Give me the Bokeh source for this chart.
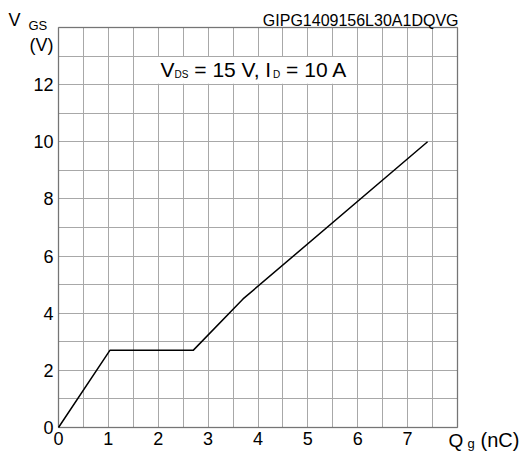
from bokeh.plotting import figure
from bokeh.models import FixedTicker, Label, BoxAnnotation, Range1d
from bokeh.embed import file_html
from bokeh.resources import INLINE

# Data
qg_nc = [0.0, 1.03, 2.7, 3.7, 7.4]
vgs_v = [0.0, 2.7, 2.7, 4.5, 10.0]

x_tick_values = [0, 1, 2, 3, 4, 5, 6, 7]
y_tick_values = [0, 2, 4, 6, 8, 10, 12]
x_grid_values = [0, 0.5, 1, 1.5, 2, 2.5, 3, 3.5, 4, 4.5, 5, 5.5, 6, 6.5, 7, 7.5, 8]
y_grid_values = [0, 1, 2, 3, 4, 5, 6, 7, 8, 9, 10, 11, 12, 13, 14]

FONT = "Liberation Sans"

# layout: chart box occupies these canvas pixels
W, H = 526, 452
BOX_L, BOX_R, BOX_T, BOX_B = 58, 457, 27, 427
X0, X1, Y0, Y1 = 0, 8, 0, 14
sx = (BOX_R - BOX_L) / (X1 - X0)
sy = (BOX_B - BOX_T) / (Y1 - Y0)

def dx(px):
    return X0 + (px - BOX_L) / sx

def dy(py):
    return Y0 + (BOX_B - py) / sy

p = figure(width=W, height=H,
           x_range=Range1d(dx(0), dx(W)), y_range=Range1d(dy(H), dy(0)),
           output_backend="svg", toolbar_location=None,
           min_border_left=0, min_border_right=0, min_border_top=0, min_border_bottom=0)

p.background_fill_color = "white"
p.border_fill_color = "white"
p.outline_line_color = None

for ax in (p.xaxis, p.yaxis):
    ax.axis_line_color = None
    ax.major_tick_line_color = None
    ax.minor_tick_line_color = None
    ax.major_tick_out = 0
    ax.major_tick_in = 0
    ax.minor_tick_out = 0
    ax.minor_tick_in = 0
    ax.major_label_text_font = FONT
    ax.major_label_text_font_size = "18px"
    ax.major_label_text_color = "black"

p.xaxis.ticker = FixedTicker(ticks=x_tick_values)
p.yaxis.ticker = FixedTicker(ticks=y_tick_values)
p.xaxis.fixed_location = Y0
p.yaxis.fixed_location = X0
p.xaxis.major_label_standoff = 4
p.yaxis.major_label_standoff = 5

p.xgrid.ticker = FixedTicker(ticks=x_grid_values)
p.ygrid.ticker = FixedTicker(ticks=y_grid_values)
p.xgrid.bounds = (X0, X1)
p.xgrid.cross_bounds = (Y0, Y1)
p.ygrid.bounds = (Y0, Y1)
p.ygrid.cross_bounds = (X0, X1)
for g in (p.xgrid, p.ygrid):
    g.grid_line_color = "#a8a8a8"
    g.grid_line_width = 1

p.line(qg_nc, vgs_v, line_color="black", line_width=1.5)

# white box behind the condition text
p.add_layout(BoxAnnotation(left=dx(157), right=dx(355), bottom=12.03, top=12.97,
                           fill_color="white", fill_alpha=1.0, line_color=None))

# chart frame
p.add_layout(BoxAnnotation(left=X0, right=X1, bottom=Y0, top=Y1,
                           fill_alpha=0.0, fill_color=None,
                           line_color="black", line_width=1.5))

def lab(text, px, py, size, align="left"):
    # py is the vertical centre of the capitals
    p.add_layout(Label(x=dx(px), y=dy(py), text=text,
                       text_font=FONT, text_font_size=size, text_color="black",
                       text_align=align, text_baseline="middle"))

# condition text with subscripts
lab("V", 160, 69.2, "21px")
lab("DS", 174, 73.5, "10px")
lab("= 15 V, I", 193.8, 69.2, "21px")
lab("D", 272.6, 73.5, "10px")
lab("= 10 A", 285.6, 69.2, "21px")

# part number
lab("GIPG1409156L30A1DQVG", 458, 20.3, "16px", align="right")

# y axis title
lab("V", 8, 19.5, "18px")
lab("GS", 28, 24.6, "13px")
lab("(V)", 53, 44.8, "18px", align="right")

# x axis title
lab("Q", 448, 439.9, "19px")
lab("g", 467, 442.8, "13px")
lab("(nC)", 480, 439.5, "20px")

open("out.html", "w").write(file_html(p, INLINE))
